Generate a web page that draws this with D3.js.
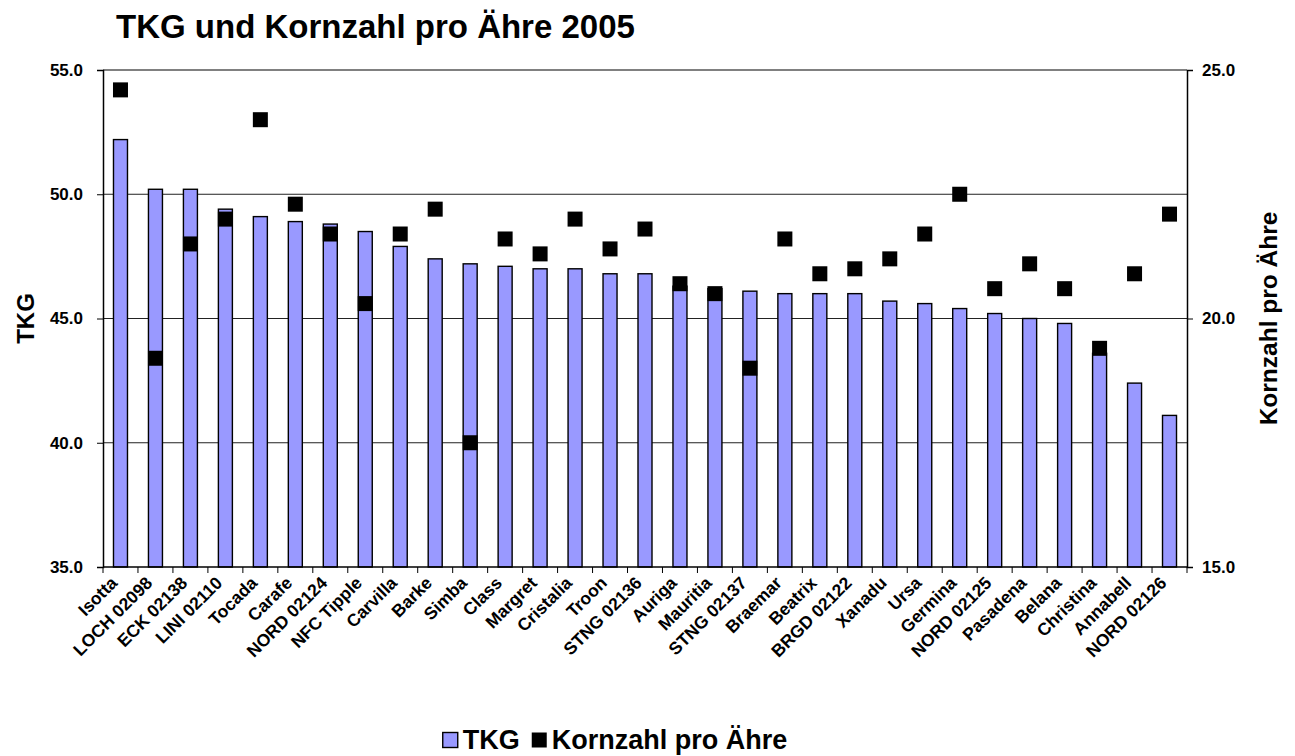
<!DOCTYPE html>
<html>
<head>
<meta charset="utf-8">
<script src="https://cdn.jsdelivr.net/npm/d3@7"></script>
<style>
  html, body { margin: 0; padding: 0; background: #fff; }
  svg { display: block; }
  text { font-family: Arial, "Liberation Sans", sans-serif; font-weight: bold; fill: #000; }
</style>
</head>
<body>
<svg id="chart" width="1295" height="756"></svg>
<script>
const categories = ["Isotta","LOCH 02098","ECK 02138","LINI 02110","Tocada","Carafe","NORD 02124","NFC Tipple","Carvilla","Barke","Simba","Class","Margret","Cristalia","Troon","STNG 02136","Auriga","Mauritia","STNG 02137","Braemar","Beatrix","BRGD 02122","Xanadu","Ursa","Germina","NORD 02125","Pasadena","Belana","Christina","Annabell","NORD 02126"];
const tkg = [52.2,50.2,50.2,49.4,49.1,48.9,48.8,48.5,47.9,47.4,47.2,47.1,47.0,47.0,46.8,46.8,46.3,46.2,46.1,46.0,46.0,46.0,45.7,45.6,45.4,45.2,45.0,44.8,43.6,42.4,41.1];
const kornzahl = [24.6,19.2,21.5,22.0,24.0,22.3,21.7,20.3,21.7,22.2,17.5,21.6,21.3,22.0,21.4,21.8,20.7,20.5,19.0,21.6,20.9,21.0,21.2,21.7,22.5,20.6,21.1,20.6,19.4,20.9,22.1];
const leftTicks = [35,40,45,50,55];
const rightTicks = [15,20,25];
const gridValues = [40,45,50];
const title = "TKG und Kornzahl pro Ähre 2005";
const leftTitle = "TKG";
const rightTitle = "Kornzahl pro Ähre";
const seriesNames = ["TKG","Kornzahl pro Ähre"];

const svg = d3.select("#chart");
const L = 103, R = 1187, T = 70, B = 567;
const barColor = "#9999FF";
const FF = "Arial, 'Liberation Sans', sans-serif";

const x = d3.scaleBand().domain(categories).range([L, R]).padding(0);
const yL = d3.scaleLinear().domain([35,55]).range([B, T]);
const yR = d3.scaleLinear().domain([15,25]).range([B, T]);

// gridlines
svg.append("g").selectAll("line").data(gridValues).join("line")
  .attr("x1", L).attr("x2", R)
  .attr("y1", d => yL(d)).attr("y2", d => yL(d))
  .attr("stroke", "#222").attr("stroke-width", 1);
// top border
svg.append("line").attr("x1", L).attr("x2", R).attr("y1", yL(55)).attr("y2", yL(55))
  .attr("stroke", "#808080").attr("stroke-width", 2);

// bars
const bw = 14;
svg.append("g").selectAll("rect").data(categories).join("rect")
  .attr("x", d => x(d) + x.bandwidth()/2 - bw/2)
  .attr("y", (d,i) => yL(tkg[i]))
  .attr("width", bw)
  .attr("height", (d,i) => yL(35) - yL(tkg[i]))
  .attr("fill", barColor).attr("stroke", "#000").attr("stroke-width", 1.4);

// squares
const ms = 15;
svg.append("g").selectAll("rect").data(categories).join("rect")
  .attr("x", d => x(d) + x.bandwidth()/2 - ms/2)
  .attr("y", (d,i) => yR(kornzahl[i]) - ms/2)
  .attr("width", ms).attr("height", ms)
  .attr("fill", "#000");

// left axis
const axL = svg.append("g").attr("transform", `translate(${L},0)`)
  .call(d3.axisLeft(yL).tickValues(leftTicks).tickFormat(d3.format(".1f")).tickSize(6).tickPadding(14));
axL.select(".domain").attr("stroke", "#000").attr("stroke-width", 1.5);
axL.selectAll(".tick line").attr("stroke", "#000");
axL.selectAll("text").style("font-size", "17px").style("font-family", FF).style("font-weight", "bold");

// right axis
const axR = svg.append("g").attr("transform", `translate(${R},0)`)
  .call(d3.axisRight(yR).tickValues(rightTicks).tickFormat(d3.format(".1f")).tickSize(6).tickPadding(9));
axR.select(".domain").attr("stroke", "#000").attr("stroke-width", 1.5);
axR.selectAll(".tick line").attr("stroke", "#000");
axR.selectAll("text").style("font-size", "17px").style("font-family", FF).style("font-weight", "bold");

// bottom axis line & ticks at category boundaries
svg.append("line").attr("x1", L).attr("x2", R).attr("y1", B).attr("y2", B).attr("stroke", "#000").attr("stroke-width", 1.5);
const bounds = categories.map(c => x(c)).concat([R]);
svg.append("g").selectAll("line").data(bounds).join("line")
  .attr("x1", d => d).attr("x2", d => d).attr("y1", B).attr("y2", B + 6)
  .attr("stroke", "#000");

// x labels
svg.append("g").selectAll("text").data(categories).join("text")
  .attr("transform", d => `translate(${x(d) + x.bandwidth()/2 - 2},${B + 17}) rotate(-45)`)
  .attr("text-anchor", "end")
  .style("font-size", "17.5px")
  .text(d => d);

// title
svg.append("text").attr("x", 116).attr("y", 38).style("font-size", "33px").text(title);

// axis titles
svg.append("text").attr("transform", `translate(34,${(T+B)/2}) rotate(-90)`)
  .attr("text-anchor", "middle").style("font-size", "24px").text(leftTitle);
svg.append("text").attr("transform", `translate(1277,${(T+B)/2}) rotate(-90)`)
  .attr("text-anchor", "middle").style("font-size", "24.5px").text(rightTitle);

// legend
const lg = svg.append("g");
const ly = 740;
const fs = 27;
const tmp1 = lg.append("text").style("font-size", fs + "px").text(seriesNames[0]);
const w1 = tmp1.node().getComputedTextLength();
const tmp2 = lg.append("text").style("font-size", fs + "px").text(seriesNames[1]);
const w2 = tmp2.node().getComputedTextLength();
const total = 15 + 5 + w1 + 12 + 15 + 5 + w2;
let lx = 615 - total / 2;
lg.append("rect").attr("x", lx).attr("y", ly - 7.5).attr("width", 15).attr("height", 15)
  .attr("fill", barColor).attr("stroke", "#000").attr("stroke-width", 1.4);
tmp1.attr("x", lx + 20).attr("y", ly + 9);
lx = lx + 20 + w1 + 12;
lg.append("rect").attr("x", lx).attr("y", ly - 7.5).attr("width", 15).attr("height", 15).attr("fill", "#000");
tmp2.attr("x", lx + 20).attr("y", ly + 9);
</script>
</body>
</html>
